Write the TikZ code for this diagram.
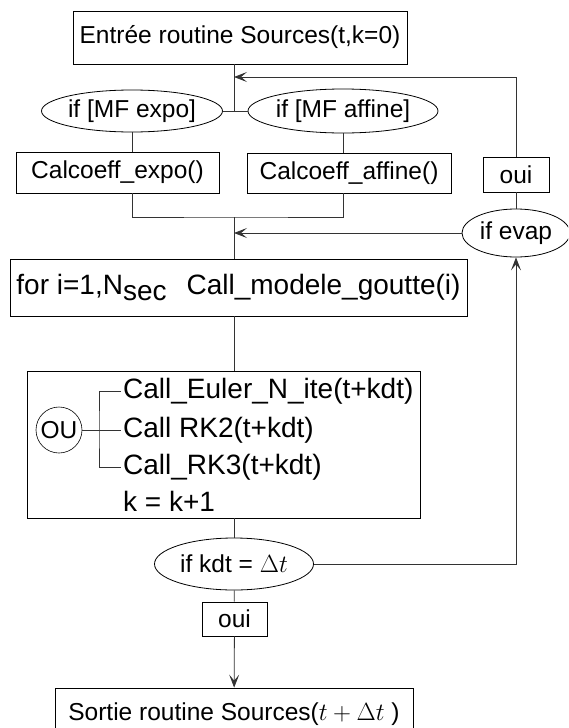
\documentclass[tikz,border=0pt]{standalone}
\usepackage{fontspec}
\setmainfont{Liberation Sans}
\usepackage{amsmath}
\usetikzlibrary{shapes.geometric, arrows.meta}

\newcommand{\grand}{\fontsize{28}{32}\selectfont}

\tikzset{
  boite/.style={rectangle, draw=black, line width=0.8pt, inner sep=0pt},
  bulle/.style={ellipse, draw=black, line width=0.8pt, inner sep=0pt},
  ligne/.style={draw=black!80, line width=0.8pt},
  fleche/.style={ligne, -{Stealth[length=13pt, width=10pt, inset=6pt]}},
  appel/.style={anchor=west, inner sep=2pt, font=\grand}
}

\begin{document}
\begin{tikzpicture}[x=1pt, y=-1pt, every node/.style={font=\fontsize{24.5}{28}\selectfont}]
  \useasboundingbox (0,0) rectangle (568,728);
  \clip (0,0) rectangle (568,728);

  % Entree et choix de la MF
  \node[boite, minimum width=334pt, minimum height=53pt] (entree) at (240,37.5) {Entrée routine Sources(t,k=0)};
  \node[bulle, minimum width=158pt, minimum height=42pt] (expo) at (132,111) {if [MF expo]};
  \node[bulle, minimum width=160pt, minimum height=44pt] (affine) at (343,111) {if [MF affine]};
  \node[boite, minimum width=203pt, minimum height=41pt] (cexpo) at (117.5,172.5) {Calcoeff\_expo()};
  \node[boite, minimum width=204pt, minimum height=40pt] (caffine) at (349,173) {Calcoeff\_affine()};
  \coordinate (retour) at (234,77);
  \coordinate (jonction) at (234,111);
  \coordinate (fusion) at (234,217);

  \draw[ligne] (entree.south -| jonction) -- (jonction);
  \draw[ligne] (expo) -- (affine);
  \draw[ligne] (expo.south) -- (expo.south |- cexpo.north);
  \draw[ligne] (affine.south) -- (affine.south |- caffine.north);
  \draw[ligne] (expo.south |- cexpo.south) |- (fusion) -| (affine.south |- caffine.south);

  % Evaporation
  \node[boite, minimum width=66pt, minimum height=35pt] (ouievap) at (516,174.5) {oui};
  \node[bulle, minimum width=108pt, minimum height=48pt] (evap) at (516,233) {if evap};
  \draw[ligne] (ouievap) -- (evap);
  \draw[fleche] (ouievap.north) |- (retour);
  \draw[fleche] (evap) -- (evap -| fusion);

  % Boucle sur les sections
  \node[boite, minimum width=457pt, minimum height=57pt, font=\grand] (boucle) at (238.5,287.5)
    {for i=1,N\raisebox{-6pt}{sec}\hspace{20pt}Call\_modele\_goutte(i)};
  \draw[ligne] (fusion) -- (boucle.north -| fusion);

  % Schema en temps
  \node[boite, minimum width=393pt, minimum height=147pt] (schema) at (223.5,444.5) {};
  \node[circle, draw=black, line width=0.6pt, minimum size=46pt, inner sep=0pt] (ou) at (59,430) {OU};
  \node[appel] (euler) at (121,391) {Call\_Euler\_N\_ite(t+kdt)};
  \node[appel] (rk2) at (121,430) {Call RK2(t+kdt)};
  \node[appel] (rk3) at (121,467) {Call\_RK3(t+kdt)};
  \node[appel] (incr) at (121,501) {k = k+1};
  \coordinate (crochet) at (99,430);
  \draw[ligne] (ou) -- (rk2.west);
  \draw[ligne] (euler.west) -| (crochet) |- (rk3.west);
  \draw[ligne] (boucle.south -| fusion) -- (schema.north -| fusion);

  % Test de fin
  \node[bulle, minimum width=159pt, minimum height=52pt] (kdt) at (234,564) {if kdt = {\grand$\Delta t$}};
  \node[boite, minimum width=65pt, minimum height=34pt] (ouifin) at (234.5,619) {oui};
  \node[boite, minimum width=358pt, minimum height=52pt] (sortie) at (234,714) {Sortie routine Sources({\grand$t+\Delta t$} )};
  \draw[ligne] (schema.south -| kdt) -- (kdt);
  \draw[fleche] (kdt.east) -| (evap.south);
  \draw[ligne] (kdt) -- (ouifin);
  \draw[fleche] (ouifin) -- (sortie);
\end{tikzpicture}
\end{document}
